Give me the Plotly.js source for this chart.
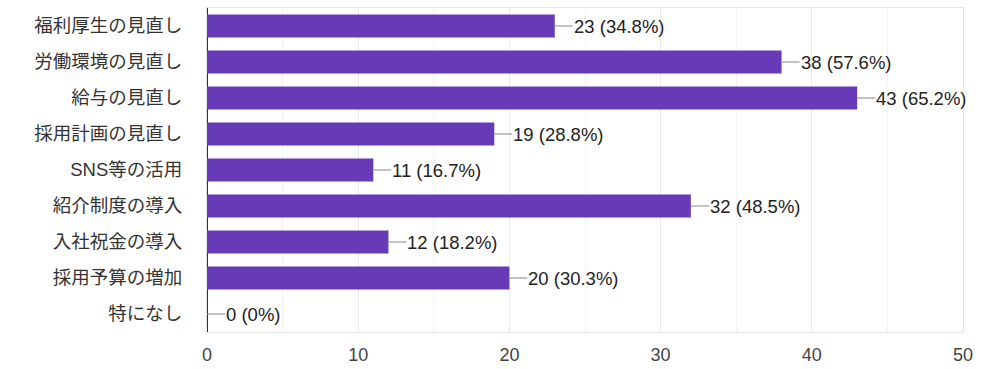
<!DOCTYPE html>
<html>
<head>
<meta charset="utf-8">
<script src="https://cdn.plot.ly/plotly-3.0.1.min.js"></script>
<style>html,body{margin:0;padding:0;background:#fff;}#chart{width:1000px;height:369px;}</style>
</head>
<body>
<div id="chart"></div>
<script>
const categories = ["福利厚生の見直し","労働環境の見直し","給与の見直し","採用計画の見直し","SNS等の活用","紹介制度の導入","入社祝金の導入","採用予算の増加","特になし"];
const counts = [23, 38, 43, 19, 11, 32, 12, 20, 0];
const percents = ["34.8%","57.6%","65.2%","28.8%","16.7%","48.5%","18.2%","30.3%","0%"];
const xTicks = [0, 10, 20, 30, 40, 50];

const FONT = "'Liberation Sans', Arial, 'Noto Sans CJK JP', sans-serif";

const trace = {
  type: 'bar',
  orientation: 'h',
  x: counts,
  y: categories,
  marker: {color: '#673ab7'},
  hoverinfo: 'none'
};

const annotations = categories.map((c, i) => ({
  x: counts[i], y: c, xref: 'x', yref: 'y',
  text: counts[i] + ' (' + percents[i] + ')',
  showarrow: true, arrowhead: 0, arrowwidth: 1, arrowcolor: '#888',
  ax: 18, ay: 0, xanchor: 'left', standoff: 0, startstandoff: 0,
  borderpad: 0,
  font: {family: FONT, size: 18.5, color: '#222'}
}));

const layout = {
  width: 1000, height: 369,
  margin: {l: 207, r: 37, t: 8, b: 37},
  paper_bgcolor: '#fff', plot_bgcolor: '#fff',
  bargap: 0.36,
  showlegend: false,
  font: {family: FONT, size: 18.5, color: '#333'},
  xaxis: {
    range: [0, 50], tickvals: xTicks, ticktext: xTicks.map(String),
    showgrid: true, gridcolor: '#ebebeb', gridwidth: 1,
    minor: {dtick: 5, showgrid: true, gridcolor: '#f3f3f3'},
    zeroline: true, zerolinecolor: '#333', zerolinewidth: 1.5,
    showline: true, linecolor: '#e6e6e6', mirror: true,
    ticks: '', ticklabelstandoff: 6,
    tickfont: {family: FONT, size: 18, color: '#444'},
    fixedrange: true
  },
  yaxis: {
    type: 'category', autorange: 'reversed',
    showgrid: false, zeroline: false,
    showline: true, linecolor: '#e6e6e6', mirror: true,
    ticks: '', ticklabelstandoff: 20,
    tickfont: {family: FONT, size: 18.5, color: '#333'},
    fixedrange: true
  },
  annotations: annotations
};

Plotly.newPlot('chart', [trace], layout, {displayModeBar: false, staticPlot: true});
</script>
</body>
</html>
